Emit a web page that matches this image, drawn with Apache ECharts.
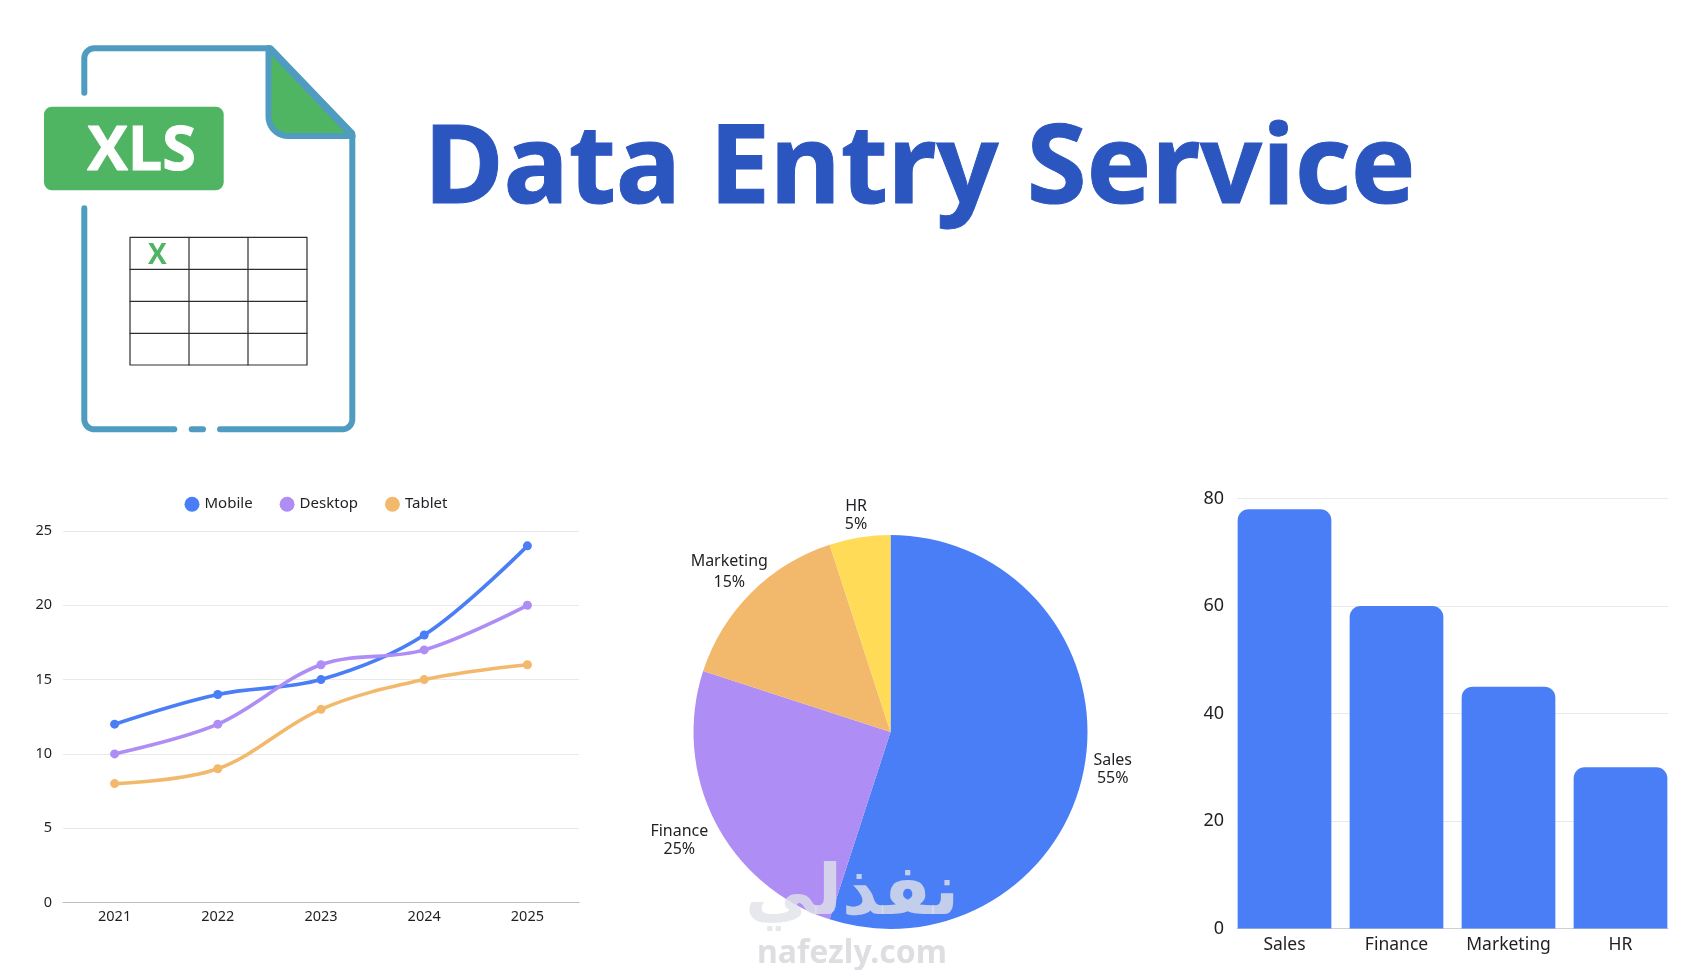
<!DOCTYPE html>
<html>
<head>
<meta charset="utf-8">
<style>html,body{margin:0;padding:0;background:#fff}#c{width:1700px;height:970px}</style>
<script src="https://cdn.jsdelivr.net/npm/echarts@6/dist/echarts.min.js"></script>
</head>
<body>
<div id="c"></div>
<script>
var years = ['2021', '2022', '2023', '2024', '2025'];
var mobile = [12, 14, 15, 18, 24];
var desktop = [10, 12, 16, 17, 20];
var tablet = [8, 9, 13, 15, 16];
var pieNames = ['Sales', 'Finance', 'Marketing', 'HR'];
var pieValues = [55, 25, 15, 5];
var barNames = ['Sales', 'Finance', 'Marketing', 'HR'];
var barValues = [78, 60, 45, 30];

var BLUE = '#4A7EF6', PURPLE = '#AE8DF4', ORANGE = '#F2B96C', YELLOW = '#FFDB58';
var TEAL = '#4F9CC0', GREEN = '#4FB562', INK = '#1F1F24';
var FONT = '"Noto Sans", sans-serif';

var pieCenter = [890.5, 732], pieR = 197, pieLabelDist = [225, 237, 228, 220];
var pieLabelLift = [2, 1, 1.5, 1];
var total = pieValues.reduce(function (a, b) { return a + b; }, 0);
function pieLabelLayout(p) {
  var before = 0;
  for (var i = 0; i < p.dataIndex; i++) before += pieValues[i];
  var a = (before + pieValues[p.dataIndex] / 2) / total * 2 * Math.PI;
  var d = pieLabelDist[p.dataIndex];
  return { x: pieCenter[0] + d * Math.sin(a), y: pieCenter[1] - d * Math.cos(a) + pieLabelLift[p.dataIndex], align: 'center', verticalAlign: 'middle' };
}

function lineSeries(name, data, color) {
  return {
    name: name, type: 'line', data: data, smooth: 0.35, xAxisIndex: 0, yAxisIndex: 0,
    symbol: 'circle', symbolSize: 9, showSymbol: true,
    lineStyle: { color: color, width: 3.6 }, itemStyle: { color: color }
  };
}

var gridLine = { show: true, lineStyle: { color: '#E9E9E9', width: 1 } };

function corner(cx, cy, r, a0, a1) {
  var pts = [];
  for (var i = 0; i <= 10; i++) {
    var a = (a0 + (a1 - a0) * i / 10) * Math.PI / 180;
    pts.push([cx + r * Math.cos(a), cy + r * Math.sin(a)]);
  }
  return pts;
}
function stroke(points, w, color) {
  return { type: 'polyline', shape: { points: points }, style: { fill: null, stroke: color || TEAL, lineWidth: w || 6, lineCap: 'round', lineJoin: 'round' } };
}
var foldPts = [[268.5, 48], [352.5, 136]].concat(corner(288, 116.5, 19.5, 90, 180));

var icon = [
  { type: 'rect', shape: { x: 44, y: 106.7, width: 179.7, height: 83.6, r: 8 }, style: { fill: GREEN } },
  { type: 'text', style: { x: 141.5, y: 152.5, text: 'XLS', fill: '#fff', stroke: '#fff', lineWidth: 1, font: 'bold 61px "Open Sans", sans-serif', align: 'center', verticalAlign: 'middle' } },
  { type: 'polygon', shape: { points: foldPts }, style: { fill: GREEN, stroke: TEAL, lineWidth: 6, lineJoin: 'round' } },
  stroke([[84.3, 92.7]].concat(corner(94.3, 58.3, 10, 180, 270), [[270.7, 48.3], [352.3, 133.3]], corner(342.3, 419.3, 10, 0, 90), [[220, 429.3]])),
  stroke([[191.7, 429.3], [203, 429.3]]),
  stroke([[84.3, 208.3]].concat(corner(94.3, 419.3, 10, 180, 90), [[174.3, 429.3]])),
  stroke([[130, 237.3], [307, 237.3], [307, 365], [130, 365], [130, 237.3]], 1.2, '#2E2E2E'),
  stroke([[189, 237.3], [189, 365]], 1.2, '#2E2E2E'),
  stroke([[248, 237.3], [248, 365]], 1.2, '#2E2E2E'),
  stroke([[130, 269.3], [307, 269.3]], 1.2, '#2E2E2E'),
  stroke([[130, 301.3], [307, 301.3]], 1.2, '#2E2E2E'),
  stroke([[130, 333.3], [307, 333.3]], 1.2, '#2E2E2E'),
  { type: 'text', style: { x: 157.3, y: 256, text: 'X', fill: GREEN, font: 'bold 28px "Open Sans", sans-serif', align: 'center', verticalAlign: 'middle' } },
  { type: 'text', z: 20, style: { x: 852, y: 896, text: 'نفذلي', fill: 'rgba(224,226,232,0.8)', font: 'bold 70px "DejaVu Sans", sans-serif', align: 'center', verticalAlign: 'middle' } },
  { type: 'text', z: 20, style: { x: 852, y: 954, text: 'nafezly.com', fill: 'rgba(220,220,224,0.95)', font: 'bold 32px "Noto Sans", sans-serif', align: 'center', verticalAlign: 'middle' } },
  { type: 'text', x: 424, y: 171.5, scaleX: 0.988, style: { x: 0, y: 0, text: 'Data Entry Service', fill: '#2B55BF', stroke: '#2B55BF', lineWidth: 1, font: 'bold 110px "Noto Sans", sans-serif', align: 'left', verticalAlign: 'middle' } }
];

var option = {
  backgroundColor: '#fff',
  animation: false,
  textStyle: { fontFamily: FONT },
  legend: {
    data: ['Mobile', 'Desktop', 'Tablet'], left: 179.5, top: 491.7, icon: 'circle',
    itemWidth: 15, itemHeight: 15, itemGap: 27,
    textStyle: { fontSize: 15, color: INK, fontFamily: FONT }
  },
  grid: [
    { left: 63, width: 516, top: 531, height: 371.5 },
    { left: 1237, width: 431, top: 498.5, height: 430 },
    { left: 1228.5, width: 448, top: 498.5, height: 430 }
  ],
  xAxis: [
    { gridIndex: 0, type: 'category', data: years, boundaryGap: true,
      axisLine: { lineStyle: { color: '#BDBDBD', width: 1 } }, axisTick: { show: false },
      axisLabel: { color: INK, fontSize: 14.5, margin: 7, fontFamily: FONT } },
    { gridIndex: 1, type: 'category', data: barNames,
      axisLine: { lineStyle: { color: '#CFCFCF', width: 1 } }, axisTick: { show: false },
      axisLabel: { show: false } },
    { gridIndex: 2, type: 'category', data: barNames,
      axisLine: { show: false }, axisTick: { show: false },
      axisLabel: { color: INK, fontSize: 17.5, margin: 8, fontFamily: FONT } }
  ],
  yAxis: [
    { gridIndex: 0, type: 'value', min: 0, max: 25, interval: 5,
      axisLine: { show: false }, axisTick: { show: false }, splitLine: gridLine,
      axisLabel: { color: INK, fontSize: 14.5, margin: 11, padding: [5, 0, 0, 0], fontFamily: FONT } },
    { gridIndex: 1, type: 'value', min: 0, max: 80, interval: 20,
      axisLine: { show: false }, axisTick: { show: false }, splitLine: gridLine,
      axisLabel: { color: INK, fontSize: 18, margin: 13, padding: [5, 0, 0, 0], fontFamily: FONT } },
    { gridIndex: 2, type: 'value', min: 0, max: 80, interval: 20, show: false, splitLine: { show: false } }
  ],
  series: [
    lineSeries('Mobile', mobile, BLUE),
    lineSeries('Desktop', desktop, PURPLE),
    lineSeries('Tablet', tablet, ORANGE),
    {
      type: 'pie', center: pieCenter, radius: [0, pieR], startAngle: 90, clockwise: true,
      data: pieNames.map(function (n, i) {
        return { name: n, value: pieValues[i], label: n === 'Marketing' ? { lineHeight: 21 } : {} };
      }),
      color: [BLUE, PURPLE, ORANGE, YELLOW],
      label: { show: true, position: 'outside', formatter: '{b}\n{d}%', fontSize: 16, lineHeight: 18, color: INK, fontFamily: FONT, align: 'center' },
      labelLine: { show: false },
      labelLayout: pieLabelLayout,
      emphasis: { disabled: true }
    },
    {
      type: 'bar', xAxisIndex: 2, yAxisIndex: 2, data: barValues, barWidth: 93.7,
      itemStyle: { color: BLUE, borderRadius: [11, 11, 0, 0] }
    }
  ],
  graphic: { elements: icon }
};
var chart = echarts.init(document.getElementById('c'), null, { width: 1700, height: 970, renderer: 'canvas' });
chart.setOption(option);
</script>
</body>
</html>
